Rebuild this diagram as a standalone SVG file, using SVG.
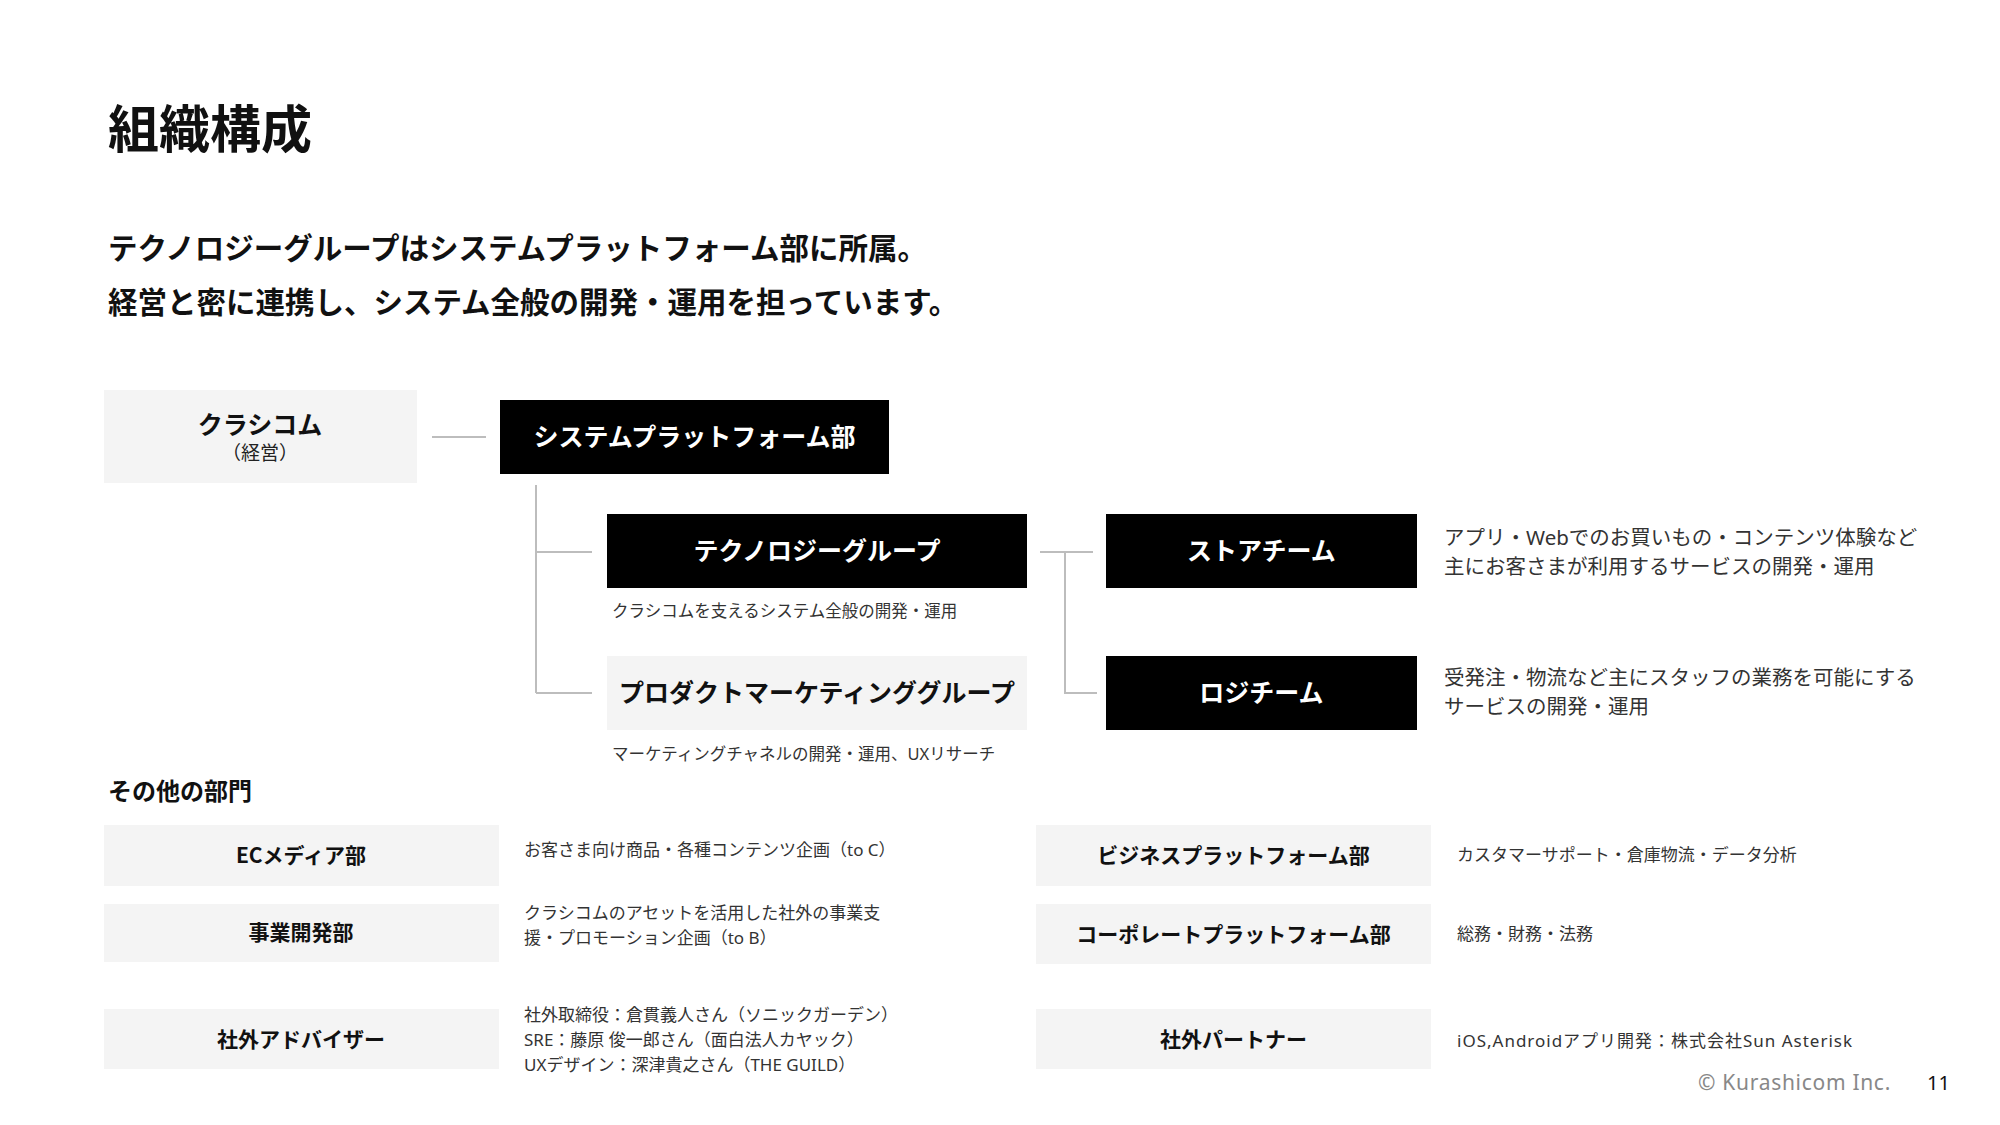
<svg xmlns="http://www.w3.org/2000/svg" width="2000" height="1125" viewBox="0 0 2000 1125">
<style>
text{font-family:"Noto Sans CJK JP","Noto Sans",sans-serif;fill:#111}
.title{font-size:51px;font-weight:700}
.lead{font-size:29.5px;font-weight:700}
.node{font-size:25px;font-weight:700;text-anchor:middle}
.inv{fill:#fff}
.sub{font-size:19px;text-anchor:middle;fill:#222}
.cap,.desc,.odesc{font-family:"Noto Sans","Noto Sans CJK JP",sans-serif}
.cap{font-size:16.5px;fill:#333}
.desc{font-size:20.5px;fill:#333}
.odesc{font-size:17px;fill:#333}
.olab{font-size:21px;font-weight:700;text-anchor:middle}
.sec{font-size:24px;font-weight:700}
.dark{fill:#000}
.light{fill:#f4f4f4}
.conn{stroke:#bdbdbd;stroke-width:2;fill:none}
.foot{font-family:"Noto Sans","Open Sans",sans-serif;font-size:21px;fill:#888;letter-spacing:0.7px}
.page{font-family:"Noto Sans","Open Sans",sans-serif;font-size:20px;fill:#111}
</style>
<rect width="2000" height="1125" fill="#fff"/>
<text class="title" x="108" y="148">組織構成</text>
<text class="lead" x="108" y="259">テクノロジーグループはシステムプラットフォーム部に所属。</text>
<text class="lead" x="108" y="313">経営と密に連携し、システム全般の開発・運用を担っています。</text>

<g id="connectors">
<path class="conn" d="M432 437H486"/>
<path class="conn" d="M536 485V693M536 552H592M536 693H592"/>
<path class="conn" d="M1040 552H1093M1065 552V693H1097"/>
</g>

<g id="kurashicom">
<rect class="light" x="104" y="390" width="313" height="93"/>
<text class="node" x="260" y="434">クラシコム</text>
<text class="sub" x="260" y="460">（経営）</text>
</g>
<g id="spf">
<rect class="dark" x="500" y="400" width="389" height="74"/>
<text class="node inv" x="694.5" y="446">システムプラットフォーム部</text>
</g>
<g id="tech">
<rect class="dark" x="607" y="514" width="420" height="74"/>
<text class="node inv" x="817" y="560">テクノロジーグループ</text>
<text class="cap" x="612" y="617">クラシコムを支えるシステム全般の開発・運用</text>
</g>
<g id="pm">
<rect class="light" x="607" y="656" width="420" height="74"/>
<text class="node" x="817" y="702">プロダクトマーケティンググループ</text>
<text class="cap" x="612" y="760">マーケティングチャネルの開発・運用、UXリサーチ</text>
</g>
<g id="store">
<rect class="dark" x="1106" y="514" width="311" height="74"/>
<text class="node inv" x="1261.5" y="560">ストアチーム</text>
<text class="desc" x="1444" y="545">アプリ・Webでのお買いもの・コンテンツ体験など</text>
<text class="desc" x="1444" y="574">主にお客さまが利用するサービスの開発・運用</text>
</g>
<g id="logi">
<rect class="dark" x="1106" y="656" width="311" height="74"/>
<text class="node inv" x="1261.5" y="702">ロジチーム</text>
<text class="desc" x="1444" y="685">受発注・物流など主にスタッフの業務を可能にする</text>
<text class="desc" x="1444" y="714">サービスの開発・運用</text>
</g>

<text class="sec" x="108" y="800">その他の部門</text>

<g id="ecmedia">
<rect class="light" x="104" y="825" width="395" height="61"/>
<text class="olab" x="301" y="863">ECメディア部</text>
<text class="odesc" x="524" y="856">お客さま向け商品・各種コンテンツ企画（to C）</text>
</g>
<g id="bizdev">
<rect class="light" x="104" y="904" width="395" height="58"/>
<text class="olab" x="301" y="940">事業開発部</text>
<text class="odesc" x="524" y="919">クラシコムのアセットを活用した社外の事業支</text>
<text class="odesc" x="524" y="944">援・プロモーション企画（to B）</text>
</g>
<g id="advisor">
<rect class="light" x="104" y="1009" width="395" height="60"/>
<text class="olab" x="301" y="1047">社外アドバイザー</text>
<text class="odesc" x="524" y="1021">社外取締役：倉貫義人さん（ソニックガーデン）</text>
<text class="odesc" x="524" y="1046">SRE：藤原 俊一郎さん（面白法人カヤック）</text>
<text class="odesc" x="524" y="1071">UXデザイン：深津貴之さん（THE GUILD）</text>
</g>
<g id="bizpf">
<rect class="light" x="1036" y="825" width="395" height="61"/>
<text class="olab" x="1233.5" y="863">ビジネスプラットフォーム部</text>
<text class="odesc" x="1457" y="861">カスタマーサポート・倉庫物流・データ分析</text>
</g>
<g id="corppf">
<rect class="light" x="1036" y="904" width="395" height="60"/>
<text class="olab" x="1233.5" y="942">コーポレートプラットフォーム部</text>
<text class="odesc" x="1457" y="940">総務・財務・法務</text>
</g>
<g id="partner">
<rect class="light" x="1036" y="1009" width="395" height="60"/>
<text class="olab" x="1233.5" y="1047">社外パートナー</text>
<text class="odesc" x="1457" y="1047" textLength="395" lengthAdjust="spacing">iOS,Androidアプリ開発：株式会社Sun Asterisk</text>
</g>

<text class="foot" x="1698" y="1090">© Kurashicom Inc.</text>
<text class="page" x="1927" y="1090">11</text>
</svg>
